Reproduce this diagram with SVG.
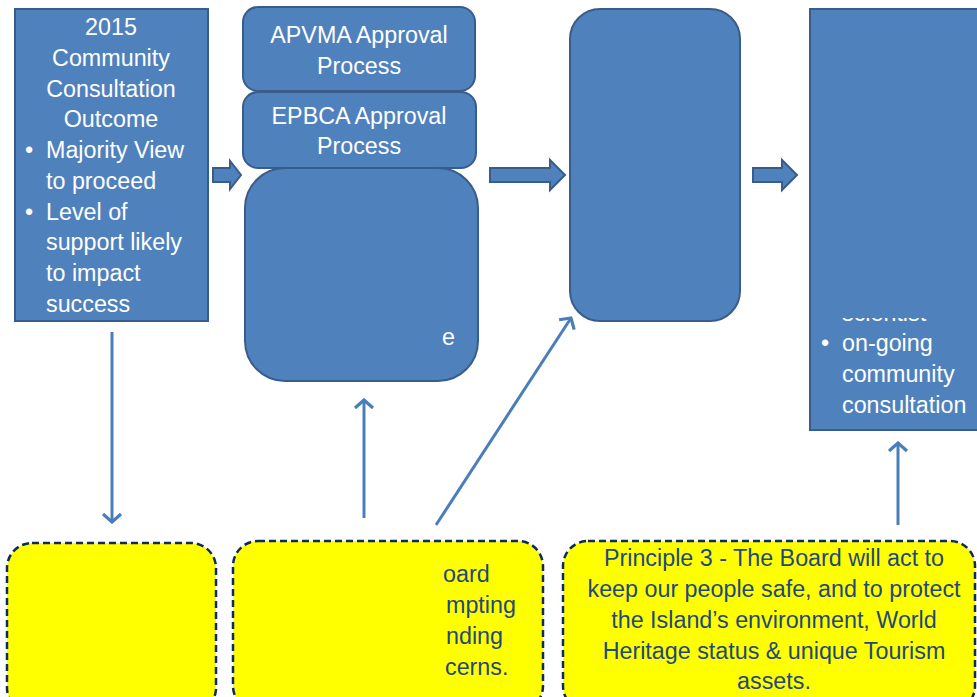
<svg xmlns="http://www.w3.org/2000/svg" width="977" height="697" viewBox="0 0 977 697">
<style>
.box{fill:#4f81bd;stroke:#385d8a;stroke-width:2}
.blk{fill:#4f81bd;stroke:#385d8a;stroke-width:2}
.yel{fill:#ffff00;stroke:#0f2a5c;stroke-width:2.5;stroke-dasharray:7 4}
.wt{font-family:"Liberation Sans",Arial,sans-serif;font-size:23.3px;fill:#ffffff}
.dt{font-family:"Liberation Sans",Arial,sans-serif;font-size:23.3px;fill:#1f497d}
.c{text-anchor:middle}
.con{stroke:#4a7ebb;stroke-width:3;fill:none}
</style>
<defs>
<marker id="ah" viewBox="-12 -12 14 24" refX="0" refY="0" markerWidth="14" markerHeight="24" markerUnits="userSpaceOnUse" orient="auto">
<path d="M-8,-9 L0,0 L-8,9" fill="none" stroke="#4a7ebb" stroke-width="3.2"/>
</marker>
<clipPath id="clipSci"><rect x="810" y="318" width="167" height="14"/></clipPath>
</defs>
<rect width="977" height="697" fill="#ffffff"/>

<g id="node-outcome">
<rect class="box" x="15" y="9" width="193" height="312"/>
<text class="wt c" x="111" y="35">2015</text>
<text class="wt c" x="111" y="66">Community</text>
<text class="wt c" x="111" y="97">Consultation</text>
<text class="wt c" x="111" y="127">Outcome</text>
<text class="wt" x="25" y="158">•</text>
<text class="wt" x="46" y="158">Majority View</text>
<text class="wt" x="46" y="189">to proceed</text>
<text class="wt" x="25" y="220">•</text>
<text class="wt" x="46" y="220">Level of</text>
<text class="wt" x="46" y="250">support likely</text>
<text class="wt" x="46" y="281">to impact</text>
<text class="wt" x="46" y="312">success</text>
</g>

<g id="node-apvma">
<rect class="box" x="243" y="7" width="232" height="84" rx="15"/>
<text class="wt c" x="359" y="43">APVMA Approval</text>
<text class="wt c" x="359" y="74">Process</text>
</g>

<g id="node-epbca">
<rect class="box" x="243" y="92" width="233" height="76" rx="15"/>
<text class="wt c" x="359" y="124">EPBCA Approval</text>
<text class="wt c" x="359" y="154">Process</text>
</g>

<g id="node-process">
<rect class="box" x="245" y="168" width="233" height="213" rx="40"/>
<text class="wt" x="442" y="345">e</text>
</g>

<g id="node-middle">
<rect class="box" x="570" y="9" width="170" height="312" rx="30"/>
</g>

<g id="node-right">
<rect class="box" x="810" y="9" width="172" height="421"/>
<text class="wt" x="842" y="321" clip-path="url(#clipSci)">scientist</text>
<text class="wt" x="821" y="351">•</text>
<text class="wt" x="842" y="351">on-going</text>
<text class="wt" x="842" y="382">community</text>
<text class="wt" x="842" y="413">consultation</text>
</g>

<g id="node-yellow1">
<rect class="yel" x="7" y="543" width="209" height="170" rx="25"/>
</g>

<g id="node-yellow2">
<rect class="yel" x="233" y="541" width="310" height="170" rx="25"/>
<text class="dt" x="443" y="582">oard</text>
<text class="dt" x="446" y="613">mpting</text>
<text class="dt" x="446" y="644">nding</text>
<text class="dt" x="445" y="675">cerns.</text>
</g>

<g id="node-yellow3">
<rect class="yel" x="563" y="541" width="412" height="170" rx="25"/>
<text class="dt c" x="774" y="566">Principle 3 -  The Board will act to</text>
<text class="dt c" x="774" y="597">keep our people safe, and to protect</text>
<text class="dt c" x="774" y="628">the Island’s environment, World</text>
<text class="dt c" x="774" y="659">Heritage status &amp; unique Tourism</text>
<text class="dt c" x="774" y="689">assets.</text>
</g>

<g id="connectors">
<polygon class="blk" points="213,168 230,168 230,161 241,175 230,189 230,182 213,182"/>
<polygon class="blk" points="490,168 550,168 550,160 565,175 550,190 550,182 490,182"/>
<polygon class="blk" points="753,168 782,168 782,160 797,175 782,190 782,182 753,182"/>
<line class="con" x1="112" y1="332" x2="112" y2="522" marker-end="url(#ah)"/>
<line class="con" x1="364" y1="518" x2="364" y2="400" marker-end="url(#ah)"/>
<line class="con" x1="436" y1="525" x2="571" y2="318" marker-end="url(#ah)"/>
<line class="con" x1="898" y1="525" x2="898" y2="443" marker-end="url(#ah)"/>
</g>
</svg>
